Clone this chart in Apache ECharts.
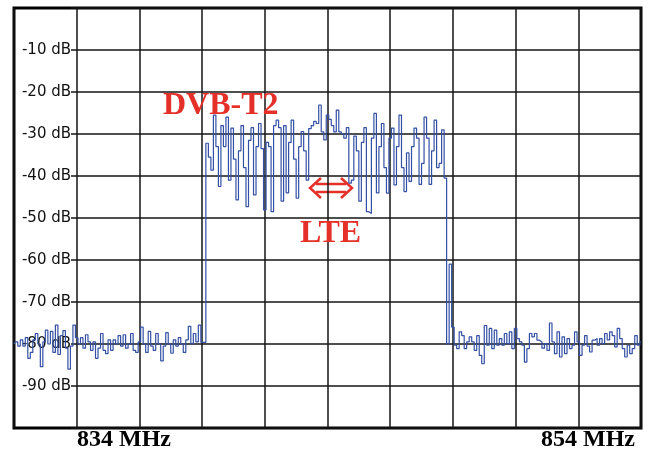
<!DOCTYPE html>
<html>
<head>
<meta charset="utf-8">
<script src="https://cdn.jsdelivr.net/npm/echarts@6/dist/echarts.min.js"></script>
<style>
html,body{margin:0;padding:0;background:#fff;}
#chart{width:649px;height:453px;}
</style>
</head>
<body>
<div id="chart"></div>
<script>
// Spectrum trace samples (dB), 25 samples per horizontal division, 10 divisions
const floorLeftDb = [-80, -79.5, -80.5, -79, -80.5, -78.5, -83.4, -82, -79, -77.5,
 -80, -85.4, -79.5, -76.7, -80, -77, -82, -75.5, -82.5, -78,
 -76.8, -81, -86, -80.5, -75.5, -78.5, -80, -78.5, -81, -77.8,
 -79.5, -81.5, -79.5, -83.4, -81, -77.5, -81.5, -82.3, -79, -81.5,
 -79, -80, -78, -80.5, -77.8, -81, -80, -77.5, -81.5, -82,
 -79.5, -76, -80, -82, -77, -80.5, -81.5, -77.5, -80, -84,
 -80.5, -77.3, -80, -82.2, -79, -80.5, -78.5, -80, -82, -79,
 -75.8, -80, -77.5, -79.5, -75.5, -79.6, -79.6];
const channelDb = [-32.2, -35.5, -38.6, -25.5, -33, -42.5, -28, -33, -26, -41,
 -28.6, -36, -45.7, -34, -28, -38, -47.3, -31.5, -28.5, -44.5,
 -33, -27.5, -33.5, -48.1, -32, -33, -48.5, -28, -26.7, -28.5,
 -46, -28, -44, -32, -26.7, -36, -45.3, -33, -29.4, -34,
 -41, -28.7, -28, -27, -27.5, -23.1, -29.5, -31.4, -25.5, -26.5,
 -28, -29.5, -24.3, -29.5, -30, -31, -28.5, -41.7, -41, -30.5,
 -34, -46, -32, -28.5, -48.5, -48.9, -31, -25.1, -44, -33,
 -27.5, -38, -44.1, -31, -28.6, -42.1, -33, -25.5, -38, -43.7,
 -34.5, -41.3, -33, -28.6, -31, -42, -37, -26, -31, -42,
 -34, -26.7, -38, -37, -29, -40.5];
const floorRightDb = [-80, -61, -76, -80.3, -81.1, -77.1, -78, -81.1, -79.5, -78.3,
 -79.5, -81.5, -78, -82.7, -84.7, -75.6, -80.3, -76.3, -81.1, -76.7,
 -80.3, -78.7, -80.3, -77.5, -79.9, -77.1, -81.1, -76.3, -78.7, -79.5,
 -80.3, -84.3, -81.1, -77.5, -78.3, -77.5, -79.1, -79.5, -81, -79.9,
 -81.5, -75, -79.5, -82.3, -77.1, -83.1, -78.3, -82.3, -78.7, -81.1,
 -80.3, -77.1, -79.5, -82.7, -80.3, -78, -80.5, -81.9, -79.1, -78.7,
 -80.3, -78.7, -79.9, -77.5, -79, -77.1, -78, -80.7, -76.3, -78.7,
 -81.1, -83.1, -80.3, -82.3, -81.1, -78, -80.3, -79.5];
const freqLabels = ['834 MHz', '854 MHz'];
const signalLabels = ['DVB-T2', 'LTE'];
const yUnit = 'dB';

const trace = floorLeftDb.concat(channelDb, floorRightDb);
const traceData = trace.map((v, i) => [i, v]);
const lastIndex = trace.length - 1;

const chart = echarts.init(document.getElementById('chart'), null, {renderer: 'canvas'});
const red = '#e5302a';
const gridLineColor = '#151515';

chart.setOption({
  animation: false,
  backgroundColor: '#ffffff',
  grid: [
    {left: 14, top: 8, width: 627, height: 420, show: true, borderColor: '#000', borderWidth: 3, backgroundColor: 'transparent'},
    {left: 71, top: 8, width: 570, height: 420, show: false}
  ],
  xAxis: [
    {gridIndex: 0, type: 'value', min: 0, max: lastIndex, interval: 25,
     axisLine: {show: false}, axisTick: {show: false}, axisLabel: {show: false},
     splitLine: {show: true, lineStyle: {color: gridLineColor, width: 1.5}}},
    {gridIndex: 1, type: 'value', min: 0, max: 1,
     axisLine: {show: false}, axisTick: {show: false}, axisLabel: {show: false}, splitLine: {show: false}}
  ],
  yAxis: [
    {gridIndex: 0, type: 'value', min: -100, max: 0, interval: 10,
     axisLine: {show: false}, axisTick: {show: false}, splitLine: {show: false},
     axisLabel: {inside: true, align: 'right', margin: 57, showMinLabel: false, showMaxLabel: false,
       fontFamily: 'DejaVu Sans', fontSize: 15, color: '#111',
       formatter: v => v + ' ' + yUnit}},
    {gridIndex: 1, type: 'value', min: -100, max: 0, interval: 10,
     axisLine: {show: false}, axisTick: {show: false}, axisLabel: {show: false},
     splitLine: {show: true, lineStyle: {color: gridLineColor, width: 1.5}}}
  ],
  series: [{
    type: 'line', xAxisIndex: 0, yAxisIndex: 0, data: traceData,
    step: 'middle', showSymbol: false, symbol: 'none', z: 5,
    lineStyle: {color: '#3350a5', width: 1.2}
  }],
  graphic: [
    {type: 'text', left: 77, top: 428, z: 10,
     style: {text: freqLabels[0], font: 'bold 24px "Liberation Serif"', fill: '#000'}},
    {type: 'text', right: 14, top: 428, z: 10,
     style: {text: freqLabels[1], font: 'bold 24px "Liberation Serif"', fill: '#000'}},
    {type: 'text', left: 163, top: 90, z: 10,
     style: {text: signalLabels[0], font: 'bold 32px "Liberation Serif"', fill: red}},
    {type: 'text', left: 300, top: 218, z: 10,
     style: {text: signalLabels[1], font: 'bold 32px "Liberation Serif"', fill: red}},
    {type: 'group', x: 331, y: 188, z: 10, children: [
      {type: 'polyline', shape: {points: [[-10, -10], [-21, 0], [-10, 10]]}, style: {stroke: red, lineWidth: 2.5, fill: null}},
      {type: 'polyline', shape: {points: [[10, -10], [21, 0], [10, 10]]}, style: {stroke: red, lineWidth: 2.5, fill: null}},
      {type: 'line', shape: {x1: -15, y1: -4, x2: 15, y2: -4}, style: {stroke: red, lineWidth: 2.5}},
      {type: 'line', shape: {x1: -15, y1: 4, x2: 15, y2: 4}, style: {stroke: red, lineWidth: 2.5}}
    ]}
  ]
});
</script>
</body>
</html>
